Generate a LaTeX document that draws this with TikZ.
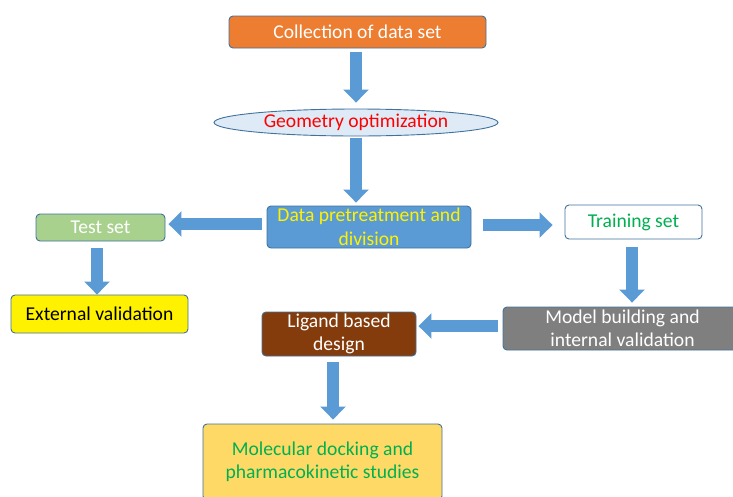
\documentclass[tikz,border=0pt]{standalone}
\usepackage{fontspec}
\setmainfont{Carlito}
\usepackage{tikz}
\usetikzlibrary{shapes.geometric,arrows.meta}

\definecolor{orng}{HTML}{ED7D31}
\definecolor{paleblue}{HTML}{DEEBF7}
\definecolor{midblue}{HTML}{5B9BD5}
\definecolor{edgeblue}{HTML}{41719C}
\definecolor{leaf}{HTML}{A9D18E}
\definecolor{brick}{HTML}{843C0C}
\definecolor{slate}{HTML}{7F7F7F}
\definecolor{butter}{HTML}{FFD966}
\definecolor{grn}{HTML}{00B050}

\begin{document}
\begin{tikzpicture}[x=1pt, y=-1pt,
  every node/.style={font=\fontsize{19.6}{23.5}\selectfont, inner sep=0pt, align=center},
  box/.style={draw=edgeblue, line width=0.9pt, rounded corners=4pt},
  flow/.style={draw=midblue, line width=12pt,
    -{Triangle[width=25pt, length=13pt]}}]
  \useasboundingbox (0,0) rectangle (733,496);

  \node[box, fill=orng, text=white, minimum width=257pt, minimum height=32pt]
    (collect) at (357.5,32) {Collection of data set};
  \node[ellipse, draw=edgeblue, line width=0.9pt, fill=paleblue, text=red,
    minimum width=284pt, minimum height=27pt] (geom) at (356,122.5) {Geometry optimization};
  \node[box, fill=midblue, text=yellow, minimum width=204pt, minimum height=42pt]
    (data) at (369,227) {Data pretreatment and\\division};
  \node[box, fill=leaf, text=white, minimum width=129pt, minimum height=27pt]
    (test) at (100.5,227.5) {Test set};
  \node[box, fill=yellow, text=black, minimum width=177pt, minimum height=38pt]
    (extval) at (99.5,314) {External validation};
  \node[box, fill=white, text=grn, minimum width=137pt, minimum height=34pt]
    (train) at (633.5,222) {Training set};
  \node[box, fill=slate, text=white, minimum width=239pt, minimum height=43pt]
    (model) at (622.5,328.5) {Model building and\\internal validation};
  \node[box, fill=brick, text=white, minimum width=154pt, minimum height=44pt]
    (ligand) at (339,334) {Ligand based\\design};
  \node[box, fill=butter, text=grn, minimum width=239pt, minimum height=76pt]
    (dock) at (322.5,462) {Molecular docking and\\pharmacokinetic studies};

  % block arrows between the steps
  \draw[flow, shorten <=4pt, shorten >=6pt] ([xshift=-1.5pt]collect.south) -- (geom.north);
  \draw[flow, shorten <=2pt, shorten >=3pt] (geom.south) -- (geom.south |- data.north);
  \draw[flow, shorten <=5pt, shorten >=3pt] ([yshift=3pt]data.west) -- ([yshift=3pt]data.west -| test.east);
  \draw[flow, shorten <=12pt, shorten >=12pt] ([yshift=2pt]data.east) -- ([yshift=2pt]data.east -| train.west);
  \draw[flow, shorten <=7pt, shorten >=0pt] ([xshift=-3.5pt]test.south) -- ([xshift=-3.5pt]test.south |- extval.north);
  \draw[flow, shorten <=8pt, shorten >=4pt] ([xshift=-1.5pt]train.south) -- ([xshift=-1.5pt]train.south |- model.north);
  \draw[flow, shorten <=5pt, shorten >=2pt] ([yshift=2.5pt]model.west) -- ([yshift=2.5pt]model.west -| ligand.east);
  \draw[flow, shorten <=6pt, shorten >=4pt] ([xshift=-6pt]ligand.south) -- ([xshift=-6pt]ligand.south |- dock.north);
\end{tikzpicture}
\end{document}
